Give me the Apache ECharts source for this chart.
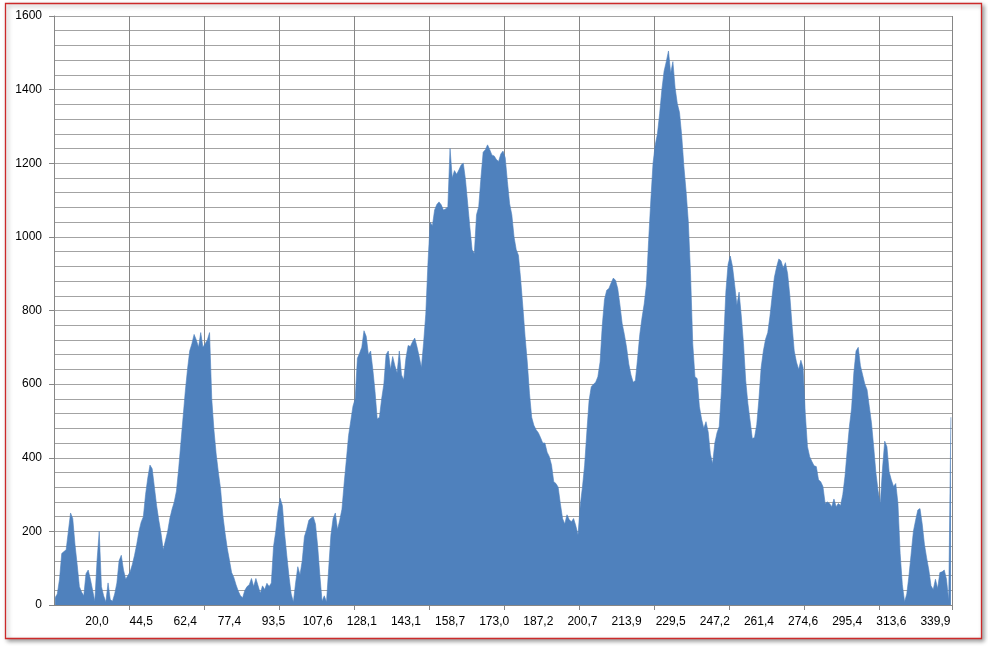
<!DOCTYPE html>
<html><head><meta charset="utf-8">
<script src="https://cdn.jsdelivr.net/npm/echarts@6/dist/echarts.min.js"></script>
<style>html,body{margin:0;padding:0;background:#fff}#c{width:988px;height:649px}</style>
</head><body><div id="c"></div>
<script>
// distance labels shown on the category axis (km)
const tickLabels = ['20,0','44,5','62,4','77,4','93,5','107,6','128,1','143,1','158,7','173,0',
  '187,2','200,7','213,9','229,5','247,2','261,4','274,6','295,4','313,6','339,9'];

// elevation profile values (m), one per track point
const elevation = [
  20,30,70,140,145,150,200,250,235,165,
  110,50,35,25,85,95,70,40,10,120,
  200,50,25,8,60,15,10,30,60,120,
  135,95,70,80,90,110,135,165,200,225,
  240,300,345,380,370,320,270,230,195,150,
  175,200,235,260,280,310,370,440,510,580,
  640,690,710,735,720,700,740,700,
  710,720,740,560,475,410,360,315,245,197,
  155,122,88,75,55,38,25,20,40,50,
  55,72,50,72,52,32,52,42,59,50,
  60,159,200,255,290,270,195,135,78,30,
  8,60,104,82,120,186,205,230,236,240,
  220,160,80,10,25,8,100,190,235,250,
  205,230,260,330,394,460,500,540,
  560,670,684,700,745,730,680,690,640,580,
  505,510,560,600,680,690,640,675,650,630,
  690,625,612,670,705,702,715,725,702,675,
  645,711,790,930,1040,1030,1073,1088,1095,1087,
  1073,1076,1082,1240,1160,1180,1170,1182,1195,1200,
  1155,1090,1025,965,955,1060,1082,1160,1230,1237,
  1250,1237,1222,1220,1210,1205,1225,1233,
  1215,1150,1090,1060,1000,965,950,885,810,730,
  660,575,510,488,476,468,455,440,440,415,
  403,380,335,330,320,275,235,220,245,232,
  226,235,215,190,270,320,380,470,555,593,
  600,605,620,660,760,830,855,860,875,888,
  882,860,815,765,735,700,655,625,605,610,
  670,735,780,818,870,990,1100,1200,
  1250,1280,1335,1400,1450,1476,1505,1445,1476,1405,
  1362,1338,1275,1190,1122,1040,900,710,620,615,
  540,505,480,498,470,410,384,440,468,485,
  580,715,850,925,948,920,870,815,850,785,
  710,610,547,500,452,455,490,560,645,690,
  722,740,785,840,890,918,940,935,915,930,
  900,840,760,690,660,640,665,645,
  520,430,403,390,378,376,340,335,322,276,
  280,276,267,288,267,276,270,300,350,420,
  485,535,630,690,700,650,625,600,585,540,
  495,430,360,310,276,370,445,430,362,340,
  322,330,276,140,55,9,30,80,140,200,
  230,258,262,220,165,128,95,52,42,70,
  45,88,90,95,70,12,510
];

const LABEL_FIRST = 19, LABEL_STEP = 20, GRID_STEP = 34;
const categories = elevation.map((_, i) => String(i));
const font = 'Liberation Sans';
const gridEvery = (i) => i > 0 && i % GRID_STEP === 0;

const chart = echarts.init(document.getElementById('c'), null, {renderer: 'canvas'});
chart.setOption({
  backgroundColor: '#fff',
  animation: false,
  graphic: [{
    type: 'rect', z: -10, silent: true,
    shape: {x: 5.5, y: 3.5, width: 976, height: 635},
    style: {fill: '#fff', stroke: '#CC2A2A', lineWidth: 1.3,
      shadowBlur: 4, shadowOffsetX: 2, shadowOffsetY: 2, shadowColor: 'rgba(0,0,0,0.35)'}
  }],
  grid: {left: 54, right: 36, top: 16, bottom: 44, containLabel: false, outerBoundsMode: 'none'},
  xAxis: {
    type: 'category', data: categories, boundaryGap: true,
    axisLine: {show: true, lineStyle: {color: '#868686', width: 1}},
    axisTick: {show: true, length: 5, interval: gridEvery, lineStyle: {color: '#868686'}},
    axisLabel: {
      interval: (i) => i >= LABEL_FIRST && (i - LABEL_FIRST) % LABEL_STEP === 0,
      formatter: (v) => tickLabels[(Number(v) - LABEL_FIRST) / LABEL_STEP] || '',
      color: '#000', fontFamily: font, fontSize: 12, margin: 11
    },
    splitLine: {show: true, interval: gridEvery, lineStyle: {color: '#868686', width: 1}}
  },
  yAxis: {
    type: 'value', min: 0, max: 1600, interval: 200,
    axisLine: {show: true, lineStyle: {color: '#868686', width: 1}},
    axisTick: {show: true, length: 5, lineStyle: {color: '#868686'}},
    axisLabel: {color: '#000', fontFamily: font, fontSize: 12, margin: 12,
      formatter: (v) => String(v)},
    splitLine: {show: true, lineStyle: {color: '#A3A3A3', width: 1}},
    minorTick: {show: false, splitNumber: 5},
    minorSplitLine: {show: true, lineStyle: {color: '#A3A3A3', width: 1}}
  },
  series: [{
    type: 'line', data: elevation, symbol: 'none', showSymbol: false, silent: true,
    lineStyle: {width: 0.6, color: '#4F81BD'},
    areaStyle: {color: '#4F81BD', opacity: 1}
  }]
});
</script>
</body></html>
